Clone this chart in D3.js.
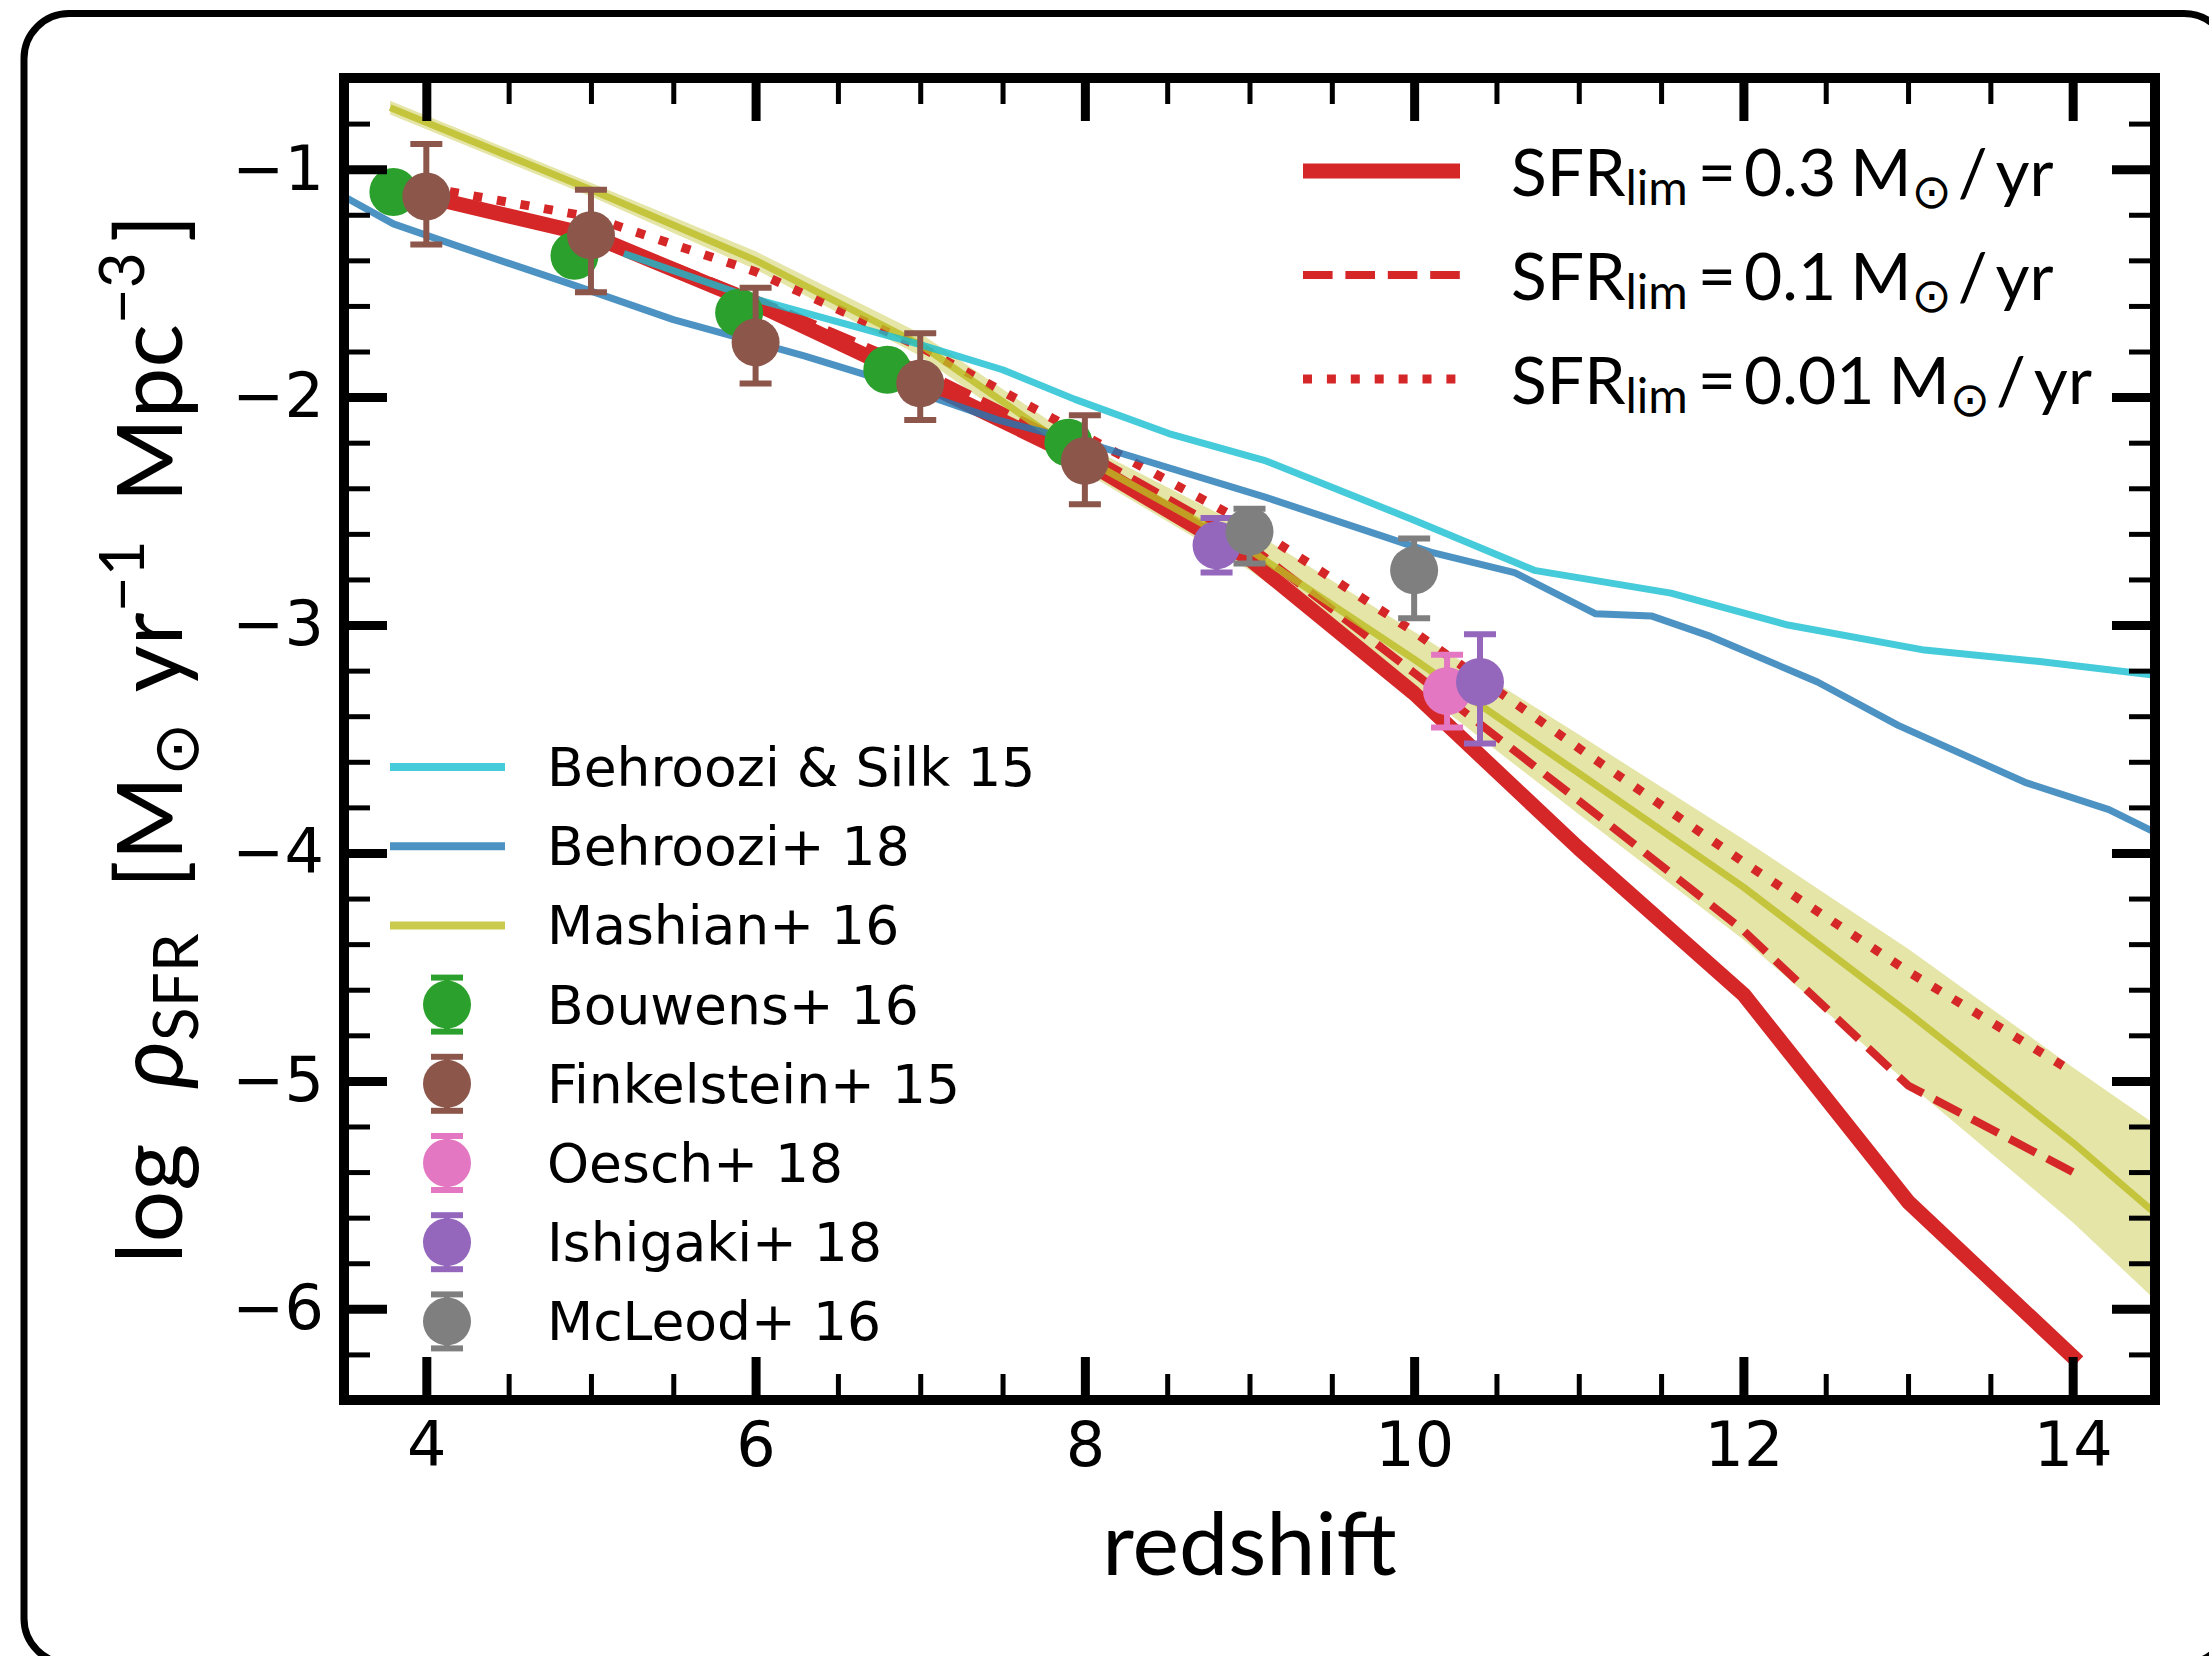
<!DOCTYPE html>
<html>
<head>
<meta charset="utf-8">
<script src="https://cdn.jsdelivr.net/npm/d3@7"></script>
<style>
  html, body { margin: 0; padding: 0; background: #fff; }
  svg { display: block; }
</style>
</head>
<body>
<svg id="chart" width="2209" height="1656"></svg>
<script>
// ---------------- data ----------------
// star-formation-rate density models (log rho_SFR) on a redshift grid
const modelZ      = [4, 5, 6, 7, 8, 9, 10, 11, 12, 13, 14];
const sfrLim03    = [-1.12, -1.29, -1.59, -1.93, -2.28, -2.71, -3.30, -3.98, -4.62, -5.53, -6.21];
const sfrLim01    = [-1.12, -1.28, -1.57, -1.88, -2.24, -2.65, -3.21, -3.77, -4.34, -5.02, -5.40];
const sfrLim001   = [-1.08, -1.21, -1.45, -1.78, -2.17, -2.56, -3.03, -3.54, -4.04, -4.52, -4.96];

// Behroozi & Silk 15
const bs15Z = [5.2, 6.0, 7.0, 7.5, 7.94, 8.51, 9.1, 10.0, 10.73, 11.56, 12.27, 13.1, 13.8, 14.5];
const bs15  = [-1.37, -1.57, -1.77, -1.88, -2.01, -2.16, -2.28, -2.54, -2.76, -2.86, -3.00, -3.11, -3.16, -3.22];

// Behroozi+ 18
const b18Z = [3.5, 3.8, 4.2, 4.9, 5.5, 6.3, 6.75, 7.47, 8.1, 9.1, 10.1, 10.61, 11.1, 11.44, 11.8, 12.45, 12.94, 13.71, 14.22, 14.5];
const b18  = [-1.12, -1.24, -1.34, -1.51, -1.66, -1.82, -1.92, -2.10, -2.22, -2.44, -2.68, -2.77, -2.95, -2.96, -3.05, -3.25, -3.44, -3.69, -3.81, -3.91];

// Mashian+ 16: central relation and its uncertainty band
const mashianZ   = [3.78, 5, 6, 7, 8, 9, 10, 11, 12, 13, 14, 14.5];
const mashianMid = [-0.73, -1.09, -1.40, -1.77, -2.27, -2.67, -3.15, -3.65, -4.15, -4.70, -5.27, -5.58];
const mashianLo  = [-0.76, -1.12, -1.44, -1.82, -2.33, -2.76, -3.27, -3.83, -4.38, -5.01, -5.62, -5.96];
const mashianHi  = [-0.70, -1.06, -1.36, -1.72, -2.21, -2.58, -3.03, -3.48, -3.94, -4.42, -4.94, -5.19];

// observations: redshift, value, upper / lower error
const bouwensZ = [3.8, 4.9, 5.9, 6.8, 7.9];
const bouwens  = [-1.10, -1.38, -1.63, -1.88, -2.20];
const bouwensUp = [0.05, 0.05, 0.05, 0.05, 0.05];
const bouwensDn = [0.05, 0.05, 0.05, 0.05, 0.05];

const finkZ  = [4, 5, 6, 7, 8];
const fink   = [-1.12, -1.29, -1.76, -1.94, -2.28];
const finkUp = [0.23, 0.20, 0.24, 0.22, 0.20];
const finkDn = [0.21, 0.25, 0.18, 0.16, 0.19];

const oeschZ  = [10.2];
const oesch   = [-3.29];
const oeschUp = [0.16];
const oeschDn = [0.16];

const ishigakiZ  = [8.8, 10.4];
const ishigaki   = [-2.65, -3.25];
const ishigakiUp = [0.12, 0.21];
const ishigakiDn = [0.12, 0.27];

const mcleodZ  = [9.0, 10.0];
const mcleod   = [-2.59, -2.76];
const mcleodUp = [0.10, 0.14];
const mcleodDn = [0.14, 0.21];

// axis ticks
const xMajorTicks = [4, 6, 8, 10, 12, 14];
const xTickLabels = ["4", "6", "8", "10", "12", "14"];
const xMinorTicks = [3.5, 4.5, 5, 5.5, 6.5, 7, 7.5, 8.5, 9, 9.5, 10.5, 11, 11.5, 12.5, 13, 13.5, 14.5];
const yMajorTicks = [-1, -2, -3, -4, -5, -6];
const yTickLabels = ["\u22121", "\u22122", "\u22123", "\u22124", "\u22125", "\u22126"];
const yMinorTicks = [-0.6, -0.8, -1.2, -1.4, -1.6, -1.8, -2.2, -2.4, -2.6, -2.8, -3.2, -3.4, -3.6, -3.8,
                     -4.2, -4.4, -4.6, -4.8, -5.2, -5.4, -5.6, -5.8, -6.2, -6.4];

// legend texts
const sfrLimValues = ["0.3", "0.1", "0.01"];
const obsLegend = ["Behroozi & Silk 15", "Behroozi+ 18", "Mashian+ 16",
                   "Bouwens+ 16", "Finkelstein+ 15", "Oesch+ 18", "Ishigaki+ 18", "McLeod+ 16"];

// ---------------- styling ----------------
const RED = "#d62728", CYAN = "#17becf", BLUE = "#1f77b4", OLIVE = "#bcbd22";
const GREEN = "#2ca02c", BROWN = "#8c564b", PINK = "#e377c2", PURPLE = "#9467bd", GRAY = "#7f7f7f";
const MATH_FONT = "Lato, 'DejaVu Sans', sans-serif";
const TICK_FONT = "'DejaVu Sans', sans-serif";

const plot = { left: 344, right: 2155, top: 78, bottom: 1400 };
const svg = d3.select("#chart");

// rounded outer frame
svg.append("rect")
  .attr("x", 24).attr("y", 13.5).attr("width", 2205).attr("height", 1650)
  .attr("rx", 45).attr("ry", 45)
  .attr("fill", "none").attr("stroke", "#000").attr("stroke-width", 7);

const x = d3.scaleLinear().domain([3.5, 14.5]).range([plot.left, plot.right]);
const y = d3.scaleLinear().domain([-6.4, -0.6]).range([plot.bottom, plot.top]);

svg.append("defs").append("clipPath").attr("id", "plotclip")
  .append("rect")
  .attr("x", plot.left).attr("y", plot.top)
  .attr("width", plot.right - plot.left).attr("height", plot.bottom - plot.top);

const area = svg.append("g").attr("clip-path", "url(#plotclip)");

const zip = (xs, ys) => xs.map((v, i) => [v, ys[i]]);
const line = d3.line().x(d => x(d[0])).y(d => y(d[1]));

// Mashian band
const band = d3.area()
  .x((d, i) => x(mashianZ[i]))
  .y0((d, i) => y(mashianLo[i]))
  .y1((d, i) => y(mashianHi[i]));
area.append("path").datum(mashianZ).attr("d", band)
  .attr("fill", OLIVE).attr("fill-opacity", 0.4).attr("stroke", "none");

// SFR_lim model curves
const redStyles = [
  { vals: sfrLim03,  width: 15, dash: null,        cap: "square" },
  { vals: sfrLim01,  width: 8,  dash: "29.6,12.8", cap: "butt" },
  { vals: sfrLim001, width: 9,  dash: "9,14.9",    cap: "butt" }
];
redStyles.forEach(s => {
  area.append("path").datum(zip(modelZ, s.vals)).attr("d", line)
    .attr("fill", "none").attr("stroke", RED).attr("stroke-width", s.width)
    .attr("stroke-linecap", s.cap).attr("stroke-linejoin", "round")
    .attr("stroke-dasharray", s.dash);
});

// Mashian central line
area.append("path").datum(zip(mashianZ, mashianMid)).attr("d", line)
  .attr("fill", "none").attr("stroke", OLIVE).attr("stroke-opacity", 0.8)
  .attr("stroke-width", 7).attr("stroke-linejoin", "round");

// Behroozi curves
area.append("path").datum(zip(bs15Z, bs15)).attr("d", line)
  .attr("fill", "none").attr("stroke", CYAN).attr("stroke-opacity", 0.8)
  .attr("stroke-width", 7).attr("stroke-linejoin", "round");
area.append("path").datum(zip(b18Z, b18)).attr("d", line)
  .attr("fill", "none").attr("stroke", BLUE).attr("stroke-opacity", 0.8)
  .attr("stroke-width", 7).attr("stroke-linejoin", "round");

// observational points with asymmetric error bars
const MARKER_R = 24, CAP_HALF = 16, EBAR_W = 6;
function errorSeries(zs, vals, ups, dns, color) {
  const g = area.append("g");
  zs.forEach((z, i) => {
    const cx = x(z), top = y(vals[i] + ups[i]), bot = y(vals[i] - dns[i]);
    g.append("line").attr("x1", cx).attr("x2", cx).attr("y1", top).attr("y2", bot)
      .attr("stroke", color).attr("stroke-width", EBAR_W);
    [top, bot].forEach(cy => g.append("line")
      .attr("x1", cx - CAP_HALF).attr("x2", cx + CAP_HALF).attr("y1", cy).attr("y2", cy)
      .attr("stroke", color).attr("stroke-width", EBAR_W));
  });
  g.selectAll("circle").data(zs).enter().append("circle")
    .attr("cx", d => x(d)).attr("cy", (d, i) => y(vals[i])).attr("r", MARKER_R)
    .attr("fill", color);
}
errorSeries(bouwensZ, bouwens, bouwensUp, bouwensDn, GREEN);
errorSeries(finkZ, fink, finkUp, finkDn, BROWN);
errorSeries(oeschZ, oesch, oeschUp, oeschDn, PINK);
errorSeries(ishigakiZ, ishigaki, ishigakiUp, ishigakiDn, PURPLE);
errorSeries(mcleodZ, mcleod, mcleodUp, mcleodDn, GRAY);

// ---------------- axes ----------------
function styleAxis(g, width) {
  g.select(".domain").remove();
  g.selectAll(".tick line").attr("stroke", "#000").attr("stroke-width", width);
  g.selectAll(".tick text").attr("font-family", TICK_FONT).attr("font-size", 62).attr("fill", "#000");
}
const MAJ = 43, MIN = 26;
// bottom
svg.append("g").attr("transform", `translate(0,${plot.bottom})`)
  .call(d3.axisBottom(x).tickValues(xMinorTicks).tickSize(-MIN).tickFormat(""))
  .call(g => styleAxis(g, 5));
svg.append("g").attr("transform", `translate(0,${plot.bottom})`)
  .call(d3.axisBottom(x).tickValues(xMajorTicks).tickSize(-MAJ).tickPadding(22)
        .tickFormat((d, i) => xTickLabels[i]))
  .call(g => styleAxis(g, 9));
// top
svg.append("g").attr("transform", `translate(0,${plot.top})`)
  .call(d3.axisTop(x).tickValues(xMinorTicks).tickSize(-MIN).tickFormat(""))
  .call(g => styleAxis(g, 5));
svg.append("g").attr("transform", `translate(0,${plot.top})`)
  .call(d3.axisTop(x).tickValues(xMajorTicks).tickSize(-MAJ).tickFormat(""))
  .call(g => styleAxis(g, 9));
// left
svg.append("g").attr("transform", `translate(${plot.left},0)`)
  .call(d3.axisLeft(y).tickValues(yMinorTicks).tickSize(-MIN).tickFormat(""))
  .call(g => styleAxis(g, 5));
svg.append("g").attr("transform", `translate(${plot.left},0)`)
  .call(d3.axisLeft(y).tickValues(yMajorTicks).tickSize(-MAJ).tickPadding(20)
        .tickFormat((d, i) => yTickLabels[i]))
  .call(g => styleAxis(g, 9));
// right
svg.append("g").attr("transform", `translate(${plot.right},0)`)
  .call(d3.axisRight(y).tickValues(yMinorTicks).tickSize(-MIN).tickFormat(""))
  .call(g => styleAxis(g, 5));
svg.append("g").attr("transform", `translate(${plot.right},0)`)
  .call(d3.axisRight(y).tickValues(yMajorTicks).tickSize(-MAJ).tickFormat(""))
  .call(g => styleAxis(g, 9));

// spines
svg.append("rect")
  .attr("x", plot.left).attr("y", plot.top)
  .attr("width", plot.right - plot.left).attr("height", plot.bottom - plot.top)
  .attr("fill", "none").attr("stroke", "#000").attr("stroke-width", 10);

// ---------------- axis titles ----------------
svg.append("text")
  .attr("x", (plot.left + plot.right) / 2).attr("y", 1575)
  .attr("text-anchor", "middle").attr("font-family", MATH_FONT).attr("font-size", 88)
  .text("redshift");

const ylab = svg.append("text")
  .attr("transform", `translate(182,${(plot.top + plot.bottom) / 2}) rotate(-90)`)
  .attr("text-anchor", "middle").attr("font-family", MATH_FONT).attr("font-size", 91);
ylab.append("tspan").text("log");
ylab.append("tspan").attr("dx", 55).attr("font-style", "italic").text("\u03c1");
ylab.append("tspan").attr("font-size", 62).attr("dy", 16).text("SFR");
ylab.append("tspan").attr("dy", -16).attr("dx", 45).text("[M");
ylab.append("tspan").attr("font-size", 64).attr("dy", 16).text("\u2299");
ylab.append("tspan").attr("dy", -16).attr("dx", 30).text("yr");
ylab.append("tspan").attr("font-size", 62).attr("dy", -38).text("\u22121");
ylab.append("tspan").attr("dy", 38).attr("dx", 38).text("Mpc");
ylab.append("tspan").attr("font-size", 62).attr("dy", -38).text("\u22123");
ylab.append("tspan").attr("dy", 38).attr("dx", 10).text("]");

// ---------------- legends ----------------
// SFR_lim legend (upper right)
const sfrLeg = svg.append("g");
const sfrRowY = [171, 275, 379];
sfrLimValues.forEach((v, i) => {
  const s = redStyles[i];
  sfrLeg.append("line")
    .attr("x1", 1303).attr("x2", 1460).attr("y1", sfrRowY[i]).attr("y2", sfrRowY[i])
    .attr("stroke", RED).attr("stroke-width", s.width)
    .attr("stroke-dasharray", s.dash).attr("stroke-linecap", "butt");
  const t = sfrLeg.append("text")
    .attr("x", 1511).attr("y", sfrRowY[i] + 25)
    .attr("font-family", MATH_FONT).attr("font-size", 66);
  t.append("tspan").text("SFR");
  t.append("tspan").attr("font-size", 48).attr("dy", 9).text("lim");
  t.append("tspan").attr("dy", -9).attr("dx", 10).text("=");
  t.append("tspan").attr("dx", 8).text(v);
  t.append("tspan").attr("dx", 14).text("M");
  t.append("tspan").attr("font-size", 48).attr("dy", 12).attr("font-family", "'DejaVu Sans', sans-serif").text("\u2299");
  t.append("tspan").attr("dy", -12).attr("dx", 6).text("/");
  t.append("tspan").attr("dx", 8).text("yr");
});

// observations / models legend (lower left)
const obsLeg = svg.append("g");
const rowY0 = 767, rowStep = 79.2;
const legendLines = [CYAN, BLUE, OLIVE];
const legendMarkers = [GREEN, BROWN, PINK, PURPLE, GRAY];
obsLegend.forEach((label, i) => {
  const cy = rowY0 + i * rowStep;
  if (i < 3) {
    obsLeg.append("line").attr("x1", 390).attr("x2", 505).attr("y1", cy).attr("y2", cy)
      .attr("stroke", legendLines[i]).attr("stroke-opacity", 0.8).attr("stroke-width", 8);
  } else {
    const c = legendMarkers[i - 3];
    obsLeg.append("line").attr("x1", 447).attr("x2", 447).attr("y1", cy - 27).attr("y2", cy + 27)
      .attr("stroke", c).attr("stroke-width", EBAR_W);
    [cy - 27, cy + 27].forEach(yy => obsLeg.append("line")
      .attr("x1", 447 - CAP_HALF).attr("x2", 447 + CAP_HALF).attr("y1", yy).attr("y2", yy)
      .attr("stroke", c).attr("stroke-width", EBAR_W));
    obsLeg.append("circle").attr("cx", 447).attr("cy", cy).attr("r", MARKER_R).attr("fill", c);
  }
  obsLeg.append("text").attr("x", 547).attr("y", cy + 19)
    .attr("font-family", TICK_FONT).attr("font-size", 53.5).text(label);
});
</script>
</body>
</html>
